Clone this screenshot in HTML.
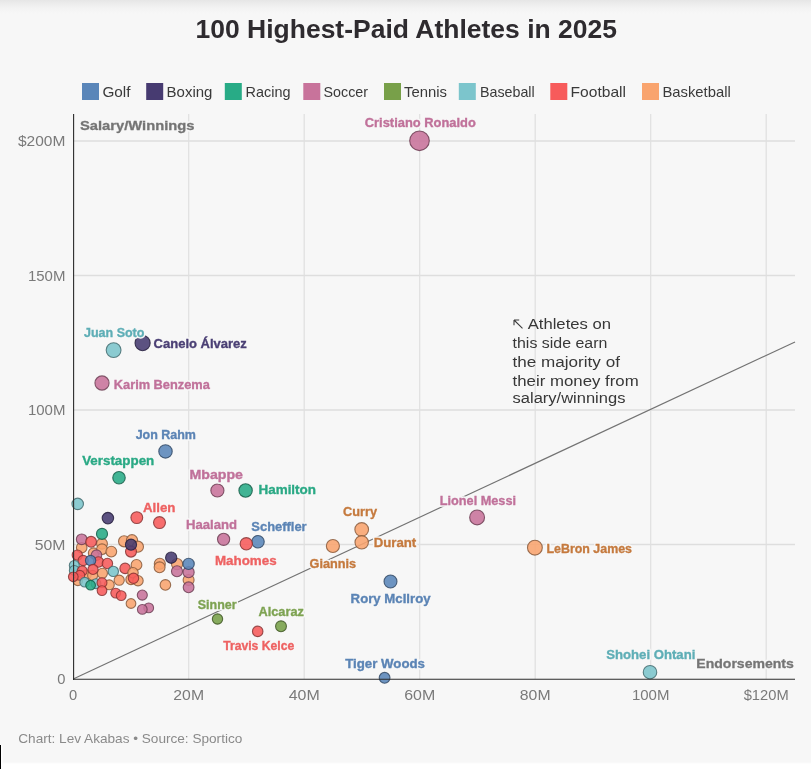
<!DOCTYPE html><html><head><meta charset="utf-8"><style>
html,body{margin:0;padding:0;width:811px;height:769px;overflow:hidden;background:#f7f7f7}
svg{display:block;will-change:transform}
text{font-family:"Liberation Sans",sans-serif}
</style></head><body>
<svg width="811" height="769" viewBox="0 0 811 769">
<defs><linearGradient id="tg" x1="0" y1="0" x2="0" y2="1"><stop offset="0" stop-color="#e6e6e6"/><stop offset="0.3" stop-color="#ededed"/><stop offset="0.65" stop-color="#f4f4f4"/><stop offset="1" stop-color="#f7f7f7"/></linearGradient><linearGradient id="bg2" x1="0" y1="0" x2="0" y2="1"><stop offset="0" stop-color="#f7f7f7"/><stop offset="1" stop-color="#ffffff"/></linearGradient></defs>
<rect width="811" height="769" fill="#f7f7f7"/>
<rect x="0" y="0" width="811" height="14" fill="url(#tg)"/>
<rect x="0" y="762" width="811" height="2" fill="url(#bg2)"/><rect x="0" y="764" width="811" height="5" fill="#fff"/>
<rect x="1" y="745" width="1.5" height="24" fill="#fff"/>
<rect x="0" y="745" width="1" height="24" fill="#000"/>
<text x="195.5" y="38.4" font-size="26" font-weight="bold" fill="#2e2b2f" textLength="421.5" lengthAdjust="spacingAndGlyphs">100 Highest-Paid Athletes in 2025</text>
<rect x="82" y="83" width="17" height="17" fill="#5a86b9"/>
<text x="102.4" y="97.4" font-size="14.5" fill="#3a3a3a" textLength="28.1" lengthAdjust="spacingAndGlyphs">Golf</text>
<rect x="146.2" y="83" width="17" height="17" fill="#473b71"/>
<text x="166.6" y="97.4" font-size="14.5" fill="#3a3a3a" textLength="45.8" lengthAdjust="spacingAndGlyphs">Boxing</text>
<rect x="224.8" y="83" width="17" height="17" fill="#28ab86"/>
<text x="245.6" y="97.4" font-size="14.5" fill="#3a3a3a" textLength="44.9" lengthAdjust="spacingAndGlyphs">Racing</text>
<rect x="303.3" y="83" width="17" height="17" fill="#c8739b"/>
<text x="323.5" y="97.4" font-size="14.5" fill="#3a3a3a" textLength="44.5" lengthAdjust="spacingAndGlyphs">Soccer</text>
<rect x="384" y="83" width="17" height="17" fill="#78a049"/>
<text x="404" y="97.4" font-size="14.5" fill="#3a3a3a" textLength="43" lengthAdjust="spacingAndGlyphs">Tennis</text>
<rect x="458.8" y="83" width="17" height="17" fill="#7cc5cc"/>
<text x="480" y="97.4" font-size="14.5" fill="#3a3a3a" textLength="54.7" lengthAdjust="spacingAndGlyphs">Baseball</text>
<rect x="550.3" y="83" width="17" height="17" fill="#f75b5b"/>
<text x="570.6" y="97.4" font-size="14.5" fill="#3a3a3a" textLength="55.4" lengthAdjust="spacingAndGlyphs">Football</text>
<rect x="642" y="83" width="17" height="17" fill="#f9a46e"/>
<text x="662.4" y="97.4" font-size="14.5" fill="#3a3a3a" textLength="68.4" lengthAdjust="spacingAndGlyphs">Basketball</text>
<line x1="73" y1="544.5" x2="795" y2="544.5" stroke="#dedede" stroke-width="1.6"/>
<line x1="73" y1="410.0" x2="795" y2="410.0" stroke="#dedede" stroke-width="1.6"/>
<line x1="73" y1="275.5" x2="795" y2="275.5" stroke="#dedede" stroke-width="1.6"/>
<line x1="73" y1="141.0" x2="795" y2="141.0" stroke="#dedede" stroke-width="1.6"/>
<line x1="188.7" y1="114" x2="188.7" y2="679" stroke="#dfdfdf" stroke-width="1.2"/>
<line x1="304.2" y1="114" x2="304.2" y2="679" stroke="#dfdfdf" stroke-width="1.2"/>
<line x1="419.7" y1="114" x2="419.7" y2="679" stroke="#dfdfdf" stroke-width="1.2"/>
<line x1="535.2" y1="114" x2="535.2" y2="679" stroke="#dfdfdf" stroke-width="1.2"/>
<line x1="650.7" y1="114" x2="650.7" y2="679" stroke="#dfdfdf" stroke-width="1.2"/>
<line x1="766.2" y1="114" x2="766.2" y2="679" stroke="#dfdfdf" stroke-width="1.2"/>
<text x="65.4" y="684.0" font-size="14" fill="#7a7a7a" text-anchor="end" textLength="8.2" lengthAdjust="spacingAndGlyphs">0</text>
<text x="65.4" y="549.5" font-size="14" fill="#7a7a7a" text-anchor="end" textLength="30.7" lengthAdjust="spacingAndGlyphs">50M</text>
<text x="65.4" y="415.0" font-size="14" fill="#7a7a7a" text-anchor="end" textLength="37.5" lengthAdjust="spacingAndGlyphs">100M</text>
<text x="65.4" y="280.5" font-size="14" fill="#7a7a7a" text-anchor="end" textLength="37.5" lengthAdjust="spacingAndGlyphs">150M</text>
<text x="65.4" y="146.0" font-size="14" fill="#7a7a7a" text-anchor="end" textLength="47.4" lengthAdjust="spacingAndGlyphs">$200M</text>
<text x="73.2" y="700.3" font-size="14" fill="#7a7a7a" text-anchor="middle" textLength="8.2" lengthAdjust="spacingAndGlyphs">0</text>
<text x="188.7" y="700.3" font-size="14" fill="#7a7a7a" text-anchor="middle" textLength="30.7" lengthAdjust="spacingAndGlyphs">20M</text>
<text x="304.2" y="700.3" font-size="14" fill="#7a7a7a" text-anchor="middle" textLength="31" lengthAdjust="spacingAndGlyphs">40M</text>
<text x="419.7" y="700.3" font-size="14" fill="#7a7a7a" text-anchor="middle" textLength="31" lengthAdjust="spacingAndGlyphs">60M</text>
<text x="535.2" y="700.3" font-size="14" fill="#7a7a7a" text-anchor="middle" textLength="30.7" lengthAdjust="spacingAndGlyphs">80M</text>
<text x="650.7" y="700.3" font-size="14" fill="#7a7a7a" text-anchor="middle" textLength="37.5" lengthAdjust="spacingAndGlyphs">100M</text>
<text x="766.2" y="700.3" font-size="14" fill="#7a7a7a" text-anchor="middle" textLength="45" lengthAdjust="spacingAndGlyphs">$120M</text>
<path d="M514 320 L522.5 328.3 M514 320 L514 325.2 M514 320 L519.2 320" stroke="#3a3a3a" stroke-width="1.05" fill="none"/>
<text x="527.7" y="329.1" font-size="15.5" fill="#383838" textLength="83.3" lengthAdjust="spacingAndGlyphs">Athletes on</text>
<text x="512.6" y="347.6" font-size="15.5" fill="#383838" textLength="94.7" lengthAdjust="spacingAndGlyphs">this side earn</text>
<text x="512.6" y="366.5" font-size="15.5" fill="#383838" textLength="107.3" lengthAdjust="spacingAndGlyphs">the majority of</text>
<text x="512.6" y="385.9" font-size="15.5" fill="#383838" textLength="126.1" lengthAdjust="spacingAndGlyphs">their money from</text>
<text x="512.6" y="403.1" font-size="15.5" fill="#383838" textLength="112.8" lengthAdjust="spacingAndGlyphs">salary/winnings</text>
<line x1="73.2" y1="679" x2="795" y2="342" stroke="#737373" stroke-width="1.15"/>
<circle cx="77.7" cy="503.9" r="5.76" fill="#7cc5cc" fill-opacity="0.88" stroke="#446c70" stroke-opacity="0.85" stroke-width="1.1"/>
<circle cx="107.9" cy="518.1" r="5.75" fill="#473b71" fill-opacity="0.88" stroke="#27203e" stroke-opacity="0.85" stroke-width="1.1"/>
<circle cx="136.8" cy="517.6" r="5.91" fill="#f75b5b" fill-opacity="0.88" stroke="#873232" stroke-opacity="0.85" stroke-width="1.1"/>
<circle cx="81.7" cy="547.7" r="5.27" fill="#f9a46e" fill-opacity="0.88" stroke="#885a3c" stroke-opacity="0.85" stroke-width="1.1"/>
<circle cx="102" cy="543.7" r="5.43" fill="#f9a46e" fill-opacity="0.88" stroke="#885a3c" stroke-opacity="0.85" stroke-width="1.1"/>
<circle cx="102" cy="533.9" r="5.54" fill="#28ab86" fill-opacity="0.88" stroke="#165e49" stroke-opacity="0.85" stroke-width="1.1"/>
<circle cx="81.7" cy="539.3" r="5.37" fill="#c8739b" fill-opacity="0.88" stroke="#6e3f55" stroke-opacity="0.85" stroke-width="1.1"/>
<circle cx="91.1" cy="541.8" r="5.39" fill="#f75b5b" fill-opacity="0.88" stroke="#873232" stroke-opacity="0.85" stroke-width="1.1"/>
<circle cx="93.6" cy="553.1" r="5.27" fill="#f9a46e" fill-opacity="0.88" stroke="#885a3c" stroke-opacity="0.85" stroke-width="1.1"/>
<circle cx="102" cy="549.2" r="5.36" fill="#f9a46e" fill-opacity="0.88" stroke="#885a3c" stroke-opacity="0.85" stroke-width="1.1"/>
<circle cx="111.3" cy="551.6" r="5.39" fill="#f9a46e" fill-opacity="0.88" stroke="#885a3c" stroke-opacity="0.85" stroke-width="1.1"/>
<circle cx="124.1" cy="541.3" r="5.58" fill="#f9a46e" fill-opacity="0.88" stroke="#885a3c" stroke-opacity="0.85" stroke-width="1.1"/>
<circle cx="132" cy="540.3" r="5.63" fill="#f9a46e" fill-opacity="0.88" stroke="#885a3c" stroke-opacity="0.85" stroke-width="1.1"/>
<circle cx="137.9" cy="546.7" r="5.59" fill="#f9a46e" fill-opacity="0.88" stroke="#885a3c" stroke-opacity="0.85" stroke-width="1.1"/>
<circle cx="131" cy="551.6" r="5.50" fill="#f75b5b" fill-opacity="0.88" stroke="#873232" stroke-opacity="0.85" stroke-width="1.1"/>
<circle cx="131" cy="544.7" r="5.58" fill="#473b71" fill-opacity="0.88" stroke="#27203e" stroke-opacity="0.85" stroke-width="1.1"/>
<circle cx="77.3" cy="555.1" r="5.15" fill="#f75b5b" fill-opacity="0.88" stroke="#873232" stroke-opacity="0.85" stroke-width="1.1"/>
<circle cx="96.5" cy="555.1" r="5.26" fill="#c8739b" fill-opacity="0.88" stroke="#6e3f55" stroke-opacity="0.85" stroke-width="1.1"/>
<circle cx="98.5" cy="562.0" r="5.19" fill="#f75b5b" fill-opacity="0.88" stroke="#873232" stroke-opacity="0.85" stroke-width="1.1"/>
<circle cx="83.2" cy="560.5" r="5.12" fill="#f75b5b" fill-opacity="0.88" stroke="#873232" stroke-opacity="0.85" stroke-width="1.1"/>
<circle cx="90.6" cy="560.5" r="5.16" fill="#5a86b9" fill-opacity="0.88" stroke="#314965" stroke-opacity="0.85" stroke-width="1.1"/>
<circle cx="107.4" cy="563.5" r="5.22" fill="#f75b5b" fill-opacity="0.88" stroke="#873232" stroke-opacity="0.85" stroke-width="1.1"/>
<circle cx="125.1" cy="568.4" r="5.26" fill="#f75b5b" fill-opacity="0.88" stroke="#873232" stroke-opacity="0.85" stroke-width="1.1"/>
<circle cx="136.5" cy="564.9" r="5.37" fill="#f9a46e" fill-opacity="0.88" stroke="#885a3c" stroke-opacity="0.85" stroke-width="1.1"/>
<circle cx="86.3" cy="574.7" r="4.96" fill="#f9a46e" fill-opacity="0.88" stroke="#885a3c" stroke-opacity="0.85" stroke-width="1.1"/>
<circle cx="77.8" cy="580.8" r="4.83" fill="#f9a46e" fill-opacity="0.88" stroke="#885a3c" stroke-opacity="0.85" stroke-width="1.1"/>
<circle cx="74.3" cy="565.5" r="5.00" fill="#7cc5cc" fill-opacity="0.88" stroke="#446c70" stroke-opacity="0.85" stroke-width="1.1"/>
<circle cx="74.3" cy="570.4" r="4.94" fill="#7cc5cc" fill-opacity="0.88" stroke="#446c70" stroke-opacity="0.85" stroke-width="1.1"/>
<circle cx="82.2" cy="570.9" r="4.98" fill="#f75b5b" fill-opacity="0.88" stroke="#873232" stroke-opacity="0.85" stroke-width="1.1"/>
<circle cx="92.6" cy="575.4" r="4.99" fill="#f9a46e" fill-opacity="0.88" stroke="#885a3c" stroke-opacity="0.85" stroke-width="1.1"/>
<circle cx="102.4" cy="573.3" r="5.07" fill="#f9a46e" fill-opacity="0.88" stroke="#885a3c" stroke-opacity="0.85" stroke-width="1.1"/>
<circle cx="93" cy="569.4" r="5.07" fill="#f75b5b" fill-opacity="0.88" stroke="#873232" stroke-opacity="0.85" stroke-width="1.1"/>
<circle cx="113.3" cy="571.4" r="5.16" fill="#7cc5cc" fill-opacity="0.88" stroke="#446c70" stroke-opacity="0.85" stroke-width="1.1"/>
<circle cx="131" cy="579.5" r="5.16" fill="#f9a46e" fill-opacity="0.88" stroke="#885a3c" stroke-opacity="0.85" stroke-width="1.1"/>
<circle cx="133" cy="572.8" r="5.25" fill="#f9a46e" fill-opacity="0.88" stroke="#885a3c" stroke-opacity="0.85" stroke-width="1.1"/>
<circle cx="119.2" cy="580.2" r="5.08" fill="#f9a46e" fill-opacity="0.88" stroke="#885a3c" stroke-opacity="0.85" stroke-width="1.1"/>
<circle cx="138" cy="580.7" r="5.19" fill="#f9a46e" fill-opacity="0.88" stroke="#885a3c" stroke-opacity="0.85" stroke-width="1.1"/>
<circle cx="133.5" cy="578.3" r="5.19" fill="#f75b5b" fill-opacity="0.88" stroke="#873232" stroke-opacity="0.85" stroke-width="1.1"/>
<circle cx="79.8" cy="575.3" r="4.91" fill="#f75b5b" fill-opacity="0.88" stroke="#873232" stroke-opacity="0.85" stroke-width="1.1"/>
<circle cx="73.3" cy="576.8" r="4.85" fill="#f75b5b" fill-opacity="0.88" stroke="#873232" stroke-opacity="0.85" stroke-width="1.1"/>
<circle cx="84.7" cy="582.2" r="4.85" fill="#7cc5cc" fill-opacity="0.88" stroke="#446c70" stroke-opacity="0.85" stroke-width="1.1"/>
<circle cx="96" cy="583.7" r="4.90" fill="#7cc5cc" fill-opacity="0.88" stroke="#446c70" stroke-opacity="0.85" stroke-width="1.1"/>
<circle cx="90.6" cy="585.2" r="4.85" fill="#28ab86" fill-opacity="0.88" stroke="#165e49" stroke-opacity="0.85" stroke-width="1.1"/>
<circle cx="109.3" cy="584.8" r="4.97" fill="#f9a46e" fill-opacity="0.88" stroke="#885a3c" stroke-opacity="0.85" stroke-width="1.1"/>
<circle cx="102" cy="582.7" r="4.95" fill="#f75b5b" fill-opacity="0.88" stroke="#873232" stroke-opacity="0.85" stroke-width="1.1"/>
<circle cx="102" cy="590.6" r="4.85" fill="#f75b5b" fill-opacity="0.88" stroke="#873232" stroke-opacity="0.85" stroke-width="1.1"/>
<circle cx="115.7" cy="593.1" r="4.90" fill="#f75b5b" fill-opacity="0.88" stroke="#873232" stroke-opacity="0.85" stroke-width="1.1"/>
<circle cx="121.2" cy="595.6" r="4.90" fill="#f75b5b" fill-opacity="0.88" stroke="#873232" stroke-opacity="0.85" stroke-width="1.1"/>
<circle cx="131" cy="603.5" r="4.85" fill="#f9a46e" fill-opacity="0.88" stroke="#885a3c" stroke-opacity="0.85" stroke-width="1.1"/>
<circle cx="142.3" cy="595.1" r="5.03" fill="#c8739b" fill-opacity="0.88" stroke="#6e3f55" stroke-opacity="0.85" stroke-width="1.1"/>
<circle cx="148.7" cy="607.9" r="4.90" fill="#c8739b" fill-opacity="0.88" stroke="#6e3f55" stroke-opacity="0.85" stroke-width="1.1"/>
<circle cx="142.3" cy="609.4" r="4.85" fill="#c8739b" fill-opacity="0.88" stroke="#6e3f55" stroke-opacity="0.85" stroke-width="1.1"/>
<circle cx="159.8" cy="563.8" r="5.51" fill="#f9a46e" fill-opacity="0.88" stroke="#885a3c" stroke-opacity="0.85" stroke-width="1.1"/>
<circle cx="159.6" cy="567.3" r="5.47" fill="#f9a46e" fill-opacity="0.88" stroke="#885a3c" stroke-opacity="0.85" stroke-width="1.1"/>
<circle cx="177.1" cy="564.1" r="5.60" fill="#f9a46e" fill-opacity="0.88" stroke="#885a3c" stroke-opacity="0.85" stroke-width="1.1"/>
<circle cx="171.2" cy="557.7" r="5.64" fill="#473b71" fill-opacity="0.88" stroke="#27203e" stroke-opacity="0.85" stroke-width="1.1"/>
<circle cx="177" cy="571.3" r="5.52" fill="#c8739b" fill-opacity="0.88" stroke="#6e3f55" stroke-opacity="0.85" stroke-width="1.1"/>
<circle cx="188.6" cy="580.0" r="5.48" fill="#f9a46e" fill-opacity="0.88" stroke="#885a3c" stroke-opacity="0.85" stroke-width="1.1"/>
<circle cx="188.6" cy="572.2" r="5.57" fill="#c8739b" fill-opacity="0.88" stroke="#6e3f55" stroke-opacity="0.85" stroke-width="1.1"/>
<circle cx="188.6" cy="563.9" r="5.66" fill="#5a86b9" fill-opacity="0.88" stroke="#314965" stroke-opacity="0.85" stroke-width="1.1"/>
<circle cx="188.6" cy="587.3" r="5.39" fill="#c8739b" fill-opacity="0.88" stroke="#6e3f55" stroke-opacity="0.85" stroke-width="1.1"/>
<circle cx="165.4" cy="584.9" r="5.29" fill="#f9a46e" fill-opacity="0.88" stroke="#885a3c" stroke-opacity="0.85" stroke-width="1.1"/>
<circle cx="419.5" cy="140.8" r="9.80" fill="#c8739b" fill-opacity="0.88" stroke="#6e3f55" stroke-opacity="0.85" stroke-width="1.1"/>
<circle cx="113.6" cy="350.1" r="7.42" fill="#7cc5cc" fill-opacity="0.88" stroke="#446c70" stroke-opacity="0.85" stroke-width="1.1"/>
<circle cx="142.6" cy="343.1" r="7.59" fill="#473b71" fill-opacity="0.88" stroke="#27203e" stroke-opacity="0.85" stroke-width="1.1"/>
<circle cx="102" cy="383" r="7.08" fill="#c8739b" fill-opacity="0.88" stroke="#6e3f55" stroke-opacity="0.85" stroke-width="1.1"/>
<circle cx="165.5" cy="451.4" r="6.71" fill="#5a86b9" fill-opacity="0.88" stroke="#314965" stroke-opacity="0.85" stroke-width="1.1"/>
<circle cx="119" cy="477.7" r="6.24" fill="#28ab86" fill-opacity="0.88" stroke="#165e49" stroke-opacity="0.85" stroke-width="1.1"/>
<circle cx="217.4" cy="490.5" r="6.57" fill="#c8739b" fill-opacity="0.88" stroke="#6e3f55" stroke-opacity="0.85" stroke-width="1.1"/>
<circle cx="245.6" cy="490.5" r="6.70" fill="#28ab86" fill-opacity="0.88" stroke="#165e49" stroke-opacity="0.85" stroke-width="1.1"/>
<circle cx="477.1" cy="517.4" r="7.43" fill="#c8739b" fill-opacity="0.88" stroke="#6e3f55" stroke-opacity="0.85" stroke-width="1.1"/>
<circle cx="534.9" cy="547.7" r="7.41" fill="#f9a46e" fill-opacity="0.88" stroke="#885a3c" stroke-opacity="0.85" stroke-width="1.1"/>
<circle cx="159.5" cy="522.6" r="5.96" fill="#f75b5b" fill-opacity="0.88" stroke="#873232" stroke-opacity="0.85" stroke-width="1.1"/>
<circle cx="223.6" cy="539.3" r="6.10" fill="#c8739b" fill-opacity="0.88" stroke="#6e3f55" stroke-opacity="0.85" stroke-width="1.1"/>
<circle cx="258" cy="541.8" r="6.24" fill="#5a86b9" fill-opacity="0.88" stroke="#314965" stroke-opacity="0.85" stroke-width="1.1"/>
<circle cx="246.3" cy="543.8" r="6.17" fill="#f75b5b" fill-opacity="0.88" stroke="#873232" stroke-opacity="0.85" stroke-width="1.1"/>
<circle cx="361.7" cy="529.5" r="6.84" fill="#f9a46e" fill-opacity="0.88" stroke="#885a3c" stroke-opacity="0.85" stroke-width="1.1"/>
<circle cx="361.7" cy="542.3" r="6.72" fill="#f9a46e" fill-opacity="0.88" stroke="#885a3c" stroke-opacity="0.85" stroke-width="1.1"/>
<circle cx="332.9" cy="546" r="6.55" fill="#f9a46e" fill-opacity="0.88" stroke="#885a3c" stroke-opacity="0.85" stroke-width="1.1"/>
<circle cx="390.5" cy="581.5" r="6.47" fill="#5a86b9" fill-opacity="0.88" stroke="#314965" stroke-opacity="0.85" stroke-width="1.1"/>
<circle cx="217.5" cy="619" r="5.16" fill="#78a049" fill-opacity="0.88" stroke="#425828" stroke-opacity="0.85" stroke-width="1.1"/>
<circle cx="281" cy="626.3" r="5.43" fill="#78a049" fill-opacity="0.88" stroke="#425828" stroke-opacity="0.85" stroke-width="1.1"/>
<circle cx="257.7" cy="631.4" r="5.24" fill="#f75b5b" fill-opacity="0.88" stroke="#873232" stroke-opacity="0.85" stroke-width="1.1"/>
<circle cx="384.6" cy="677.8" r="5.39" fill="#5a86b9" fill-opacity="0.88" stroke="#314965" stroke-opacity="0.85" stroke-width="1.1"/>
<circle cx="650" cy="672.2" r="6.76" fill="#7cc5cc" fill-opacity="0.88" stroke="#446c70" stroke-opacity="0.85" stroke-width="1.1"/>
<line x1="73.6" y1="114" x2="73.6" y2="680" stroke="#2b2b2b" stroke-width="1.1"/>
<line x1="73" y1="679.3" x2="795" y2="679.3" stroke="#2b2b2b" stroke-width="1.1"/>
<text x="420.3" y="126.6" font-size="13" font-weight="bold" fill="#f7f7f7" text-anchor="middle" stroke="#f7f7f7" stroke-width="3.4" stroke-linejoin="round" textLength="111" lengthAdjust="spacingAndGlyphs">Cristiano Ronaldo</text>
<text x="420.3" y="126.6" font-size="13" font-weight="bold" fill="#c0719a" text-anchor="middle" stroke="#c0719a" stroke-width="0.35" textLength="111" lengthAdjust="spacingAndGlyphs">Cristiano Ronaldo</text>
<text x="114.2" y="336.5" font-size="13" font-weight="bold" fill="#f7f7f7" text-anchor="middle" stroke="#f7f7f7" stroke-width="3.4" stroke-linejoin="round" textLength="60.5" lengthAdjust="spacingAndGlyphs">Juan Soto</text>
<text x="114.2" y="336.5" font-size="13" font-weight="bold" fill="#5eaeb6" text-anchor="middle" stroke="#5eaeb6" stroke-width="0.35" textLength="60.5" lengthAdjust="spacingAndGlyphs">Juan Soto</text>
<text x="153.6" y="347.8" font-size="13" font-weight="bold" fill="#f7f7f7" text-anchor="start" stroke="#f7f7f7" stroke-width="3.4" stroke-linejoin="round" textLength="93.2" lengthAdjust="spacingAndGlyphs">Canelo Álvarez</text>
<text x="153.6" y="347.8" font-size="13" font-weight="bold" fill="#4a3f74" text-anchor="start" stroke="#4a3f74" stroke-width="0.35" textLength="93.2" lengthAdjust="spacingAndGlyphs">Canelo Álvarez</text>
<text x="113.8" y="388.8" font-size="13" font-weight="bold" fill="#f7f7f7" text-anchor="start" stroke="#f7f7f7" stroke-width="3.4" stroke-linejoin="round" textLength="96" lengthAdjust="spacingAndGlyphs">Karim Benzema</text>
<text x="113.8" y="388.8" font-size="13" font-weight="bold" fill="#c0719a" text-anchor="start" stroke="#c0719a" stroke-width="0.35" textLength="96" lengthAdjust="spacingAndGlyphs">Karim Benzema</text>
<text x="165.8" y="439.2" font-size="13" font-weight="bold" fill="#f7f7f7" text-anchor="middle" stroke="#f7f7f7" stroke-width="3.4" stroke-linejoin="round" textLength="60.3" lengthAdjust="spacingAndGlyphs">Jon Rahm</text>
<text x="165.8" y="439.2" font-size="13" font-weight="bold" fill="#5b84b5" text-anchor="middle" stroke="#5b84b5" stroke-width="0.35" textLength="60.3" lengthAdjust="spacingAndGlyphs">Jon Rahm</text>
<text x="118.2" y="464.9" font-size="13" font-weight="bold" fill="#f7f7f7" text-anchor="middle" stroke="#f7f7f7" stroke-width="3.4" stroke-linejoin="round" textLength="72.1" lengthAdjust="spacingAndGlyphs">Verstappen</text>
<text x="118.2" y="464.9" font-size="13" font-weight="bold" fill="#2aa985" text-anchor="middle" stroke="#2aa985" stroke-width="0.35" textLength="72.1" lengthAdjust="spacingAndGlyphs">Verstappen</text>
<text x="216.2" y="479.3" font-size="13" font-weight="bold" fill="#f7f7f7" text-anchor="middle" stroke="#f7f7f7" stroke-width="3.4" stroke-linejoin="round" textLength="53.5" lengthAdjust="spacingAndGlyphs">Mbappe</text>
<text x="216.2" y="479.3" font-size="13" font-weight="bold" fill="#c0719a" text-anchor="middle" stroke="#c0719a" stroke-width="0.35" textLength="53.5" lengthAdjust="spacingAndGlyphs">Mbappe</text>
<text x="258.5" y="494.4" font-size="13" font-weight="bold" fill="#f7f7f7" text-anchor="start" stroke="#f7f7f7" stroke-width="3.4" stroke-linejoin="round" textLength="57.5" lengthAdjust="spacingAndGlyphs">Hamilton</text>
<text x="258.5" y="494.4" font-size="13" font-weight="bold" fill="#2aa985" text-anchor="start" stroke="#2aa985" stroke-width="0.35" textLength="57.5" lengthAdjust="spacingAndGlyphs">Hamilton</text>
<text x="477.9" y="505" font-size="13" font-weight="bold" fill="#f7f7f7" text-anchor="middle" stroke="#f7f7f7" stroke-width="3.4" stroke-linejoin="round" textLength="76.2" lengthAdjust="spacingAndGlyphs">Lionel Messi</text>
<text x="477.9" y="505" font-size="13" font-weight="bold" fill="#c0719a" text-anchor="middle" stroke="#c0719a" stroke-width="0.35" textLength="76.2" lengthAdjust="spacingAndGlyphs">Lionel Messi</text>
<text x="546.5" y="552.8" font-size="13" font-weight="bold" fill="#f7f7f7" text-anchor="start" stroke="#f7f7f7" stroke-width="3.4" stroke-linejoin="round" textLength="85.5" lengthAdjust="spacingAndGlyphs">LeBron James</text>
<text x="546.5" y="552.8" font-size="13" font-weight="bold" fill="#c57a3e" text-anchor="start" stroke="#c57a3e" stroke-width="0.35" textLength="85.5" lengthAdjust="spacingAndGlyphs">LeBron James</text>
<text x="159.2" y="511.7" font-size="13" font-weight="bold" fill="#f7f7f7" text-anchor="middle" stroke="#f7f7f7" stroke-width="3.4" stroke-linejoin="round" textLength="32.5" lengthAdjust="spacingAndGlyphs">Allen</text>
<text x="159.2" y="511.7" font-size="13" font-weight="bold" fill="#ee6262" text-anchor="middle" stroke="#ee6262" stroke-width="0.35" textLength="32.5" lengthAdjust="spacingAndGlyphs">Allen</text>
<text x="211.5" y="528.7" font-size="13" font-weight="bold" fill="#f7f7f7" text-anchor="middle" stroke="#f7f7f7" stroke-width="3.4" stroke-linejoin="round" textLength="51" lengthAdjust="spacingAndGlyphs">Haaland</text>
<text x="211.5" y="528.7" font-size="13" font-weight="bold" fill="#c0719a" text-anchor="middle" stroke="#c0719a" stroke-width="0.35" textLength="51" lengthAdjust="spacingAndGlyphs">Haaland</text>
<text x="279" y="530.7" font-size="13" font-weight="bold" fill="#f7f7f7" text-anchor="middle" stroke="#f7f7f7" stroke-width="3.4" stroke-linejoin="round" textLength="55.3" lengthAdjust="spacingAndGlyphs">Scheffler</text>
<text x="279" y="530.7" font-size="13" font-weight="bold" fill="#5b84b5" text-anchor="middle" stroke="#5b84b5" stroke-width="0.35" textLength="55.3" lengthAdjust="spacingAndGlyphs">Scheffler</text>
<text x="245.8" y="564.5" font-size="13" font-weight="bold" fill="#f7f7f7" text-anchor="middle" stroke="#f7f7f7" stroke-width="3.4" stroke-linejoin="round" textLength="61.6" lengthAdjust="spacingAndGlyphs">Mahomes</text>
<text x="245.8" y="564.5" font-size="13" font-weight="bold" fill="#ee6262" text-anchor="middle" stroke="#ee6262" stroke-width="0.35" textLength="61.6" lengthAdjust="spacingAndGlyphs">Mahomes</text>
<text x="360" y="515.8" font-size="13" font-weight="bold" fill="#f7f7f7" text-anchor="middle" stroke="#f7f7f7" stroke-width="3.4" stroke-linejoin="round" textLength="34" lengthAdjust="spacingAndGlyphs">Curry</text>
<text x="360" y="515.8" font-size="13" font-weight="bold" fill="#c57a3e" text-anchor="middle" stroke="#c57a3e" stroke-width="0.35" textLength="34" lengthAdjust="spacingAndGlyphs">Curry</text>
<text x="373.7" y="546.6" font-size="13" font-weight="bold" fill="#f7f7f7" text-anchor="start" stroke="#f7f7f7" stroke-width="3.4" stroke-linejoin="round" textLength="42.5" lengthAdjust="spacingAndGlyphs">Durant</text>
<text x="373.7" y="546.6" font-size="13" font-weight="bold" fill="#c57a3e" text-anchor="start" stroke="#c57a3e" stroke-width="0.35" textLength="42.5" lengthAdjust="spacingAndGlyphs">Durant</text>
<text x="332.8" y="568" font-size="13" font-weight="bold" fill="#f7f7f7" text-anchor="middle" stroke="#f7f7f7" stroke-width="3.4" stroke-linejoin="round" textLength="46.5" lengthAdjust="spacingAndGlyphs">Giannis</text>
<text x="332.8" y="568" font-size="13" font-weight="bold" fill="#c57a3e" text-anchor="middle" stroke="#c57a3e" stroke-width="0.35" textLength="46.5" lengthAdjust="spacingAndGlyphs">Giannis</text>
<text x="390.6" y="603.1" font-size="13" font-weight="bold" fill="#f7f7f7" text-anchor="middle" stroke="#f7f7f7" stroke-width="3.4" stroke-linejoin="round" textLength="80" lengthAdjust="spacingAndGlyphs">Rory McIlroy</text>
<text x="390.6" y="603.1" font-size="13" font-weight="bold" fill="#5b84b5" text-anchor="middle" stroke="#5b84b5" stroke-width="0.35" textLength="80" lengthAdjust="spacingAndGlyphs">Rory McIlroy</text>
<text x="217.2" y="608.5" font-size="13" font-weight="bold" fill="#f7f7f7" text-anchor="middle" stroke="#f7f7f7" stroke-width="3.4" stroke-linejoin="round" textLength="38.8" lengthAdjust="spacingAndGlyphs">Sinner</text>
<text x="217.2" y="608.5" font-size="13" font-weight="bold" fill="#7ea352" text-anchor="middle" stroke="#7ea352" stroke-width="0.35" textLength="38.8" lengthAdjust="spacingAndGlyphs">Sinner</text>
<text x="281.2" y="616.4" font-size="13" font-weight="bold" fill="#f7f7f7" text-anchor="middle" stroke="#f7f7f7" stroke-width="3.4" stroke-linejoin="round" textLength="45.5" lengthAdjust="spacingAndGlyphs">Alcaraz</text>
<text x="281.2" y="616.4" font-size="13" font-weight="bold" fill="#7ea352" text-anchor="middle" stroke="#7ea352" stroke-width="0.35" textLength="45.5" lengthAdjust="spacingAndGlyphs">Alcaraz</text>
<text x="258.7" y="650.4" font-size="13" font-weight="bold" fill="#f7f7f7" text-anchor="middle" stroke="#f7f7f7" stroke-width="3.4" stroke-linejoin="round" textLength="71.1" lengthAdjust="spacingAndGlyphs">Travis Kelce</text>
<text x="258.7" y="650.4" font-size="13" font-weight="bold" fill="#ee6262" text-anchor="middle" stroke="#ee6262" stroke-width="0.35" textLength="71.1" lengthAdjust="spacingAndGlyphs">Travis Kelce</text>
<text x="385.1" y="667.9" font-size="13" font-weight="bold" fill="#f7f7f7" text-anchor="middle" stroke="#f7f7f7" stroke-width="3.4" stroke-linejoin="round" textLength="79.8" lengthAdjust="spacingAndGlyphs">Tiger Woods</text>
<text x="385.1" y="667.9" font-size="13" font-weight="bold" fill="#5b84b5" text-anchor="middle" stroke="#5b84b5" stroke-width="0.35" textLength="79.8" lengthAdjust="spacingAndGlyphs">Tiger Woods</text>
<text x="650.8" y="658.6" font-size="13" font-weight="bold" fill="#f7f7f7" text-anchor="middle" stroke="#f7f7f7" stroke-width="3.4" stroke-linejoin="round" textLength="89.1" lengthAdjust="spacingAndGlyphs">Shohei Ohtani</text>
<text x="650.8" y="658.6" font-size="13" font-weight="bold" fill="#5eaeb6" text-anchor="middle" stroke="#5eaeb6" stroke-width="0.35" textLength="89.1" lengthAdjust="spacingAndGlyphs">Shohei Ohtani</text>
<text x="80" y="129.5" textLength="114.5" font-size="13.5" font-weight="bold" fill="#f7f7f7" stroke="#f7f7f7" stroke-width="3.4" stroke-linejoin="round" lengthAdjust="spacingAndGlyphs">Salary/Winnings</text>
<text x="80" y="129.5" textLength="114.5" font-size="13.5" font-weight="bold" fill="#757575" stroke="#757575" stroke-width="0.3" lengthAdjust="spacingAndGlyphs">Salary/Winnings</text>
<text x="793.8" y="667.6" text-anchor="end" textLength="97.5" font-size="13.5" font-weight="bold" fill="#f7f7f7" stroke="#f7f7f7" stroke-width="3.4" stroke-linejoin="round" lengthAdjust="spacingAndGlyphs">Endorsements</text>
<text x="793.8" y="667.6" text-anchor="end" textLength="97.5" font-size="13.5" font-weight="bold" fill="#757575" stroke="#757575" stroke-width="0.3" lengthAdjust="spacingAndGlyphs">Endorsements</text>
<text x="18.3" y="743.3" font-size="13.6" fill="#8a8a8a" textLength="224" lengthAdjust="spacingAndGlyphs">Chart: Lev Akabas • Source: Sportico</text>
</svg></body></html>
